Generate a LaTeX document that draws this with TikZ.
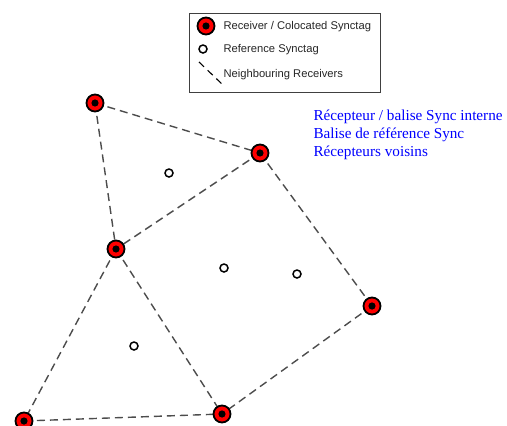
\documentclass[tikz,border=0pt]{standalone}
\usepackage{fontspec}
\setmainfont{Liberation Serif}
\setsansfont{Liberation Sans}
\usepackage{tikz}
\usepackage[dvipsnames]{xcolor}

\begin{document}
\begin{tikzpicture}[x=1pt,y=-1pt,
    receiver/.style={circle,draw=black,line width=1.8pt,fill=red,minimum size=17pt,inner sep=0pt,
        path picture={\fill[black] (path picture bounding box.center) circle (3.6pt);}},
    reftag/.style={circle,draw=black,line width=1.5pt,fill=white,minimum size=8pt,inner sep=0pt},
    link/.style={dash pattern=on 8pt off 5pt,draw=black!70,line width=1.4pt},
    legtext/.style={anchor=west,font=\sffamily\fontsize{11.2}{13}\selectfont,text=black!85},
    fr/.style={anchor=west,font=\fontsize{15.2}{18}\selectfont,text=blue}
]
    \useasboundingbox (0,0) rectangle (507,426);

    \coordinate (A) at (95,103);
    \coordinate (B) at (260,153);
    \coordinate (C) at (116,249);
    \coordinate (D) at (372,306);
    \coordinate (E) at (222,414);
    \coordinate (F) at (24,421);

    % links between neighbouring receivers
    \draw[link] (A) -- (B);
    \draw[link] (A) -- (C);
    \draw[link] (B) -- (C);
    \draw[link] (B) -- (D);
    \draw[link] (C) -- (E);
    \draw[link] (D) -- (E);
    \draw[link] (C) -- (F);
    \draw[link] (F) -- (E);

    \node[receiver] (rA) at (A) {};
    \node[receiver] (rB) at (B) {};
    \node[receiver] (rC) at (C) {};
    \node[receiver] (rD) at (D) {};
    \node[receiver] (rE) at (E) {};
    \node[receiver] (rF) at (F) {};

    \node[reftag] (t1) at (169,173) {};
    \node[reftag] (t2) at (224,268) {};
    \node[reftag] (t3) at (297,274) {};
    \node[reftag] (t4) at (134,346) {};

    % legend
    \draw[black!75,line width=0.9pt] (189,13) rectangle (380,92);
    \node[receiver] (lr) at (206,26) {};
    \node[reftag] (lt) at (203,49) {};
    \coordinate (l1) at (199,62);
    \coordinate (l2) at (223,85);
    \draw[link,dash pattern=on 7pt off 5pt,line width=1.1pt,draw=black] (l1) -- (l2);
    \node[legtext] (lrt) at (220,27) {Receiver / Colocated Synctag};
    \node[legtext] (ltt) at (220,50) {Reference Synctag};
    \node[legtext] (llt) at (220,75) {Neighbouring Receivers};

    % french labels
    \node[fr] (f1) at (310,117) {Récepteur / balise Sync interne};
    \node[fr] (f2) at (310,135) {Balise de référence Sync};
    \node[fr] (f3) at (310,153) {Récepteurs voisins};
\end{tikzpicture}
\end{document}
